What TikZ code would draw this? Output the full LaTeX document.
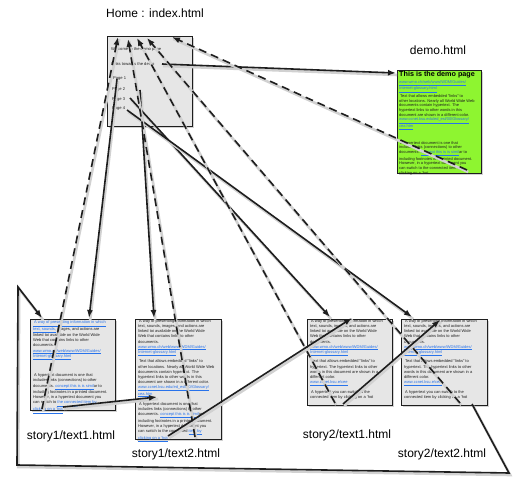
\documentclass[tikz,border=0pt]{standalone}
\usepackage{fontspec}
\setmainfont{Liberation Sans}
\usetikzlibrary{arrows.meta,shadows}
\definecolor{linkblue}{RGB}{40,115,235}
\definecolor{boxgray}{RGB}{230,230,230}
\definecolor{demogreen}{RGB}{142,245,48}
\definecolor{ink}{RGB}{30,30,30}
\newcommand{\lk}[1]{\textcolor{linkblue}{\underline{#1}}}
\newcommand{\lsp}{\hspace*{1pt}}
\newcommand{\storytwotext}{%
\lsp A way of presenting information in which\\
text, sounds, images, and actions are\\
linked toi available on the World Wide\\
Web that contains links to other\\
documents.\\
\lk{www.wmo.ch/web/www/WDM/Guides/}\\
\lk{Internet-glossary.html}\\[3pt]
\lsp Text that allows embedded "links" to\\
hypertext. The hypertext links to other\\
words in this document are shown in a\\
different color.\\
\lk{www.ccnet.ksu.e/cee}\\[5pt]
\lsp A hypertext you can switch to the\\
connected item by clicking on a 'hot}
\begin{document}
\begin{tikzpicture}[x=1pt,y=-1pt,
  pagebox/.style={draw=ink, line width=0.9pt, fill=boxgray, anchor=north west, inner sep=0pt,
    drop shadow={shadow xshift=1.5pt, shadow yshift=-2pt, opacity=0.35}},
  demobox/.style={pagebox, fill=demogreen},
  pagetext/.style={anchor=north west, inner sep=0pt, align=left, text=ink,
    font=\fontsize{4}{5.1}\selectfont},
  hometext/.style={anchor=west, inner sep=0pt, text=ink, font=\fontsize{4.1}{5}\selectfont},
  label/.style={inner sep=0pt, text=black, font=\fontsize{12}{14}\selectfont},
  nav/.style={draw=ink, line width=1.6pt, -{Latex[length=8pt,width=6pt]},
    preaction={draw=black!18, line width=2.6pt, -, transform canvas={shift={(1.2pt,-2pt)}}}},
  back/.style={nav, dash pattern=on 8pt off 5pt}
]
\fill[white] (0,0) rectangle (519,486);
\useasboundingbox (0,0) rectangle (519,486);

% ---------- boxes ----------
\node[pagebox, minimum width=85pt, minimum height=90pt] (home) at (107,36) {};
\node[demobox, minimum width=84pt, minimum height=103pt] (demo) at (397,70) {};
\node[pagebox, minimum width=85pt, minimum height=91pt] (s11) at (30,319) {};
\node[pagebox, minimum width=86pt, minimum height=120pt] (s12) at (135,319) {};
\node[pagebox, minimum width=85pt, minimum height=86pt] (s21) at (307,319) {};
\node[pagebox, minimum width=86pt, minimum height=86pt] (s22) at (401,319) {};

% ---------- labels ----------
\node[label] (homelbl) at (155,13) {Home : index.html};
\node[label] (demolbl) at (438,50) {demo.html};
\node[label] (s11lbl) at (71,436) {story1/text1.html};
\node[label] (s12lbl) at (176,454) {story1/text2.html};
\node[label] (s21lbl) at (347,435) {story2/text1.html};
\node[label] (s22lbl) at (442,454) {story2/text2.html};

% ---------- home text ----------
\node[hometext] (hw) at (111,49) {Welcome to the demo page};
\node[hometext] (hl) at (111,64) {Links towards the demo};
\node[hometext] (hp1) at (113,79) {Page 1};
\node[hometext] (hp2) at (112,89) {Page 2};
\node[hometext] (hp3) at (112,99) {Page 3};
\node[hometext] (hp4) at (112,109) {Page 4};

% ---------- demo text ----------
\node[anchor=north west, inner sep=0pt, font=\fontsize{7.2}{8}\selectfont\bfseries] (demotitle) at (399,71) {This is the demo page};
\node[pagetext, font=\fontsize{3.95}{4.7}\selectfont] (demotxt) at (399,80.8) {%
\lk{www.wmo.ch/web/www/WDM/Guides/}\\
\lk{Internet-glossary.html}\\[1pt]
\lsp Text that allows embedded "links" to\\
other locations. Nearly all World Wide Web\\
documents contain hypertext. The\\
hypertext links to other words in this\\
document are shown in a different color.\\
\lk{www.ccnet.ksu.edu/ed\_esl/00/Glossary/}\\
\lk{cea.htm}\\[10.5pt]
\lsp A hypertext document is one that\\
includes links (connections) to other\\
documents. \lk{concept this is is simil}ar to\\
including footnotes in a printed document.\\
However, in a hypertext document you\\
can switch to the connected item by\\
clicking on a 'hot};

% ---------- story texts ----------
\node[pagetext] (s11txt) at (33,320.5) {%
\lk{\lsp A way of presenting information in which}\\
\lk{text, sounds,} images, and actions are\\
linked toi available on the World Wide\\
Web that contains links to other\\
documents.\\
\lk{www.wmo.ch/web/www/WDM/Guides/}\\
\lk{Internet-glossary.html}\\[13pt]
\lsp A hypertext document is one that\\
includes links (connections) to other\\
documents. \lk{concept this is is simil}ar to\\
including footnotes in a printed document.\\
However, in a hypertext document you\\
can switch to \lk{the connected item by}\\
\lk{clicking on a 'hot}};

\node[pagetext] (s12txt) at (138,319.5) {%
\lsp A way of presenting information in which\\
text, sounds, images, and actions are\\
linked toi available on the World Wide\\
Web that contains links to other\\
documents.\\
\lk{www.wmo.ch/web/www/WDM/Guides/}\\
\lk{Internet-glossary.html}\\[3pt]
\lsp Text that allows embedded "links" to\\
other locations. Nearly all World Wide Web\\
documents contain hypertext. The\\
hypertext links to other words in this\\
document are shown in a different color.\\
\lk{www.ccnet.ksu.edu/ed\_esl/00/Glossary/}\\
\lk{cea.htm}\\[5pt]
\lsp A hypertext document is one that\\
includes links (connections) to other\\
documents. \lk{concept this is is simil}ar to\\
including footnotes in a printed document.\\
However, in a hypertext document you\\
can switch to the connected \lk{item by}\\
\lk{clicking on a 'hot}};

\node[pagetext] (s21txt) at (310,319.5) {\storytwotext};
\node[pagetext] (s22txt) at (404,319.5) {\storytwotext};

% ---------- link spots ----------
\coordinate (hLinks) at (162,64);
\coordinate (hP1) at (117,79);
\coordinate (hP2) at (140,90);
\coordinate (hP3) at (130,98);
\coordinate (hP4) at (127,110);
\coordinate (hT1) at (118,37);
\coordinate (hT2) at (128,39);
\coordinate (hT3) at (137,38);
\coordinate (hT4) at (147,38);
\coordinate (hT5) at (172,37);
\coordinate (demoIn) at (396,73);
\coordinate (demoHot) at (467,170);
\coordinate (s11In) at (89,318);
\coordinate (s12In) at (154,318);
\coordinate (s21In) at (330,317);
\coordinate (s22In) at (412,317);
\coordinate (s11Hot) at (42,409);
\coordinate (s12Hot) at (195,437);
\coordinate (s21Hot) at (335,403);
\coordinate (s22Hot) at (460,403);
\coordinate (s11Nx) at (63,407);
\coordinate (s12Tg) at (157,397);
\coordinate (s12Nx) at (168,436);
\coordinate (s21Tg) at (352,318);
\coordinate (s21Nx) at (343,404);
\coordinate (s22Tg) at (440,320);
\coordinate (s22Nx) at (472,404);
\coordinate (loopA) at (509,473);
\coordinate (loopB) at (17,465);
\coordinate (loopC) at (18,287);
\coordinate (s11Tg) at (42,318);

% ---------- connectors ----------
\draw[nav] (hLinks) -- (demoIn);
\draw[nav] (hP1) -- (s11In);
\draw[nav] (hP2) -- (s12In);
\draw[nav] (hP3) -- (s21In);
\draw[nav] (hP4) -- (s22In);

\draw[back] (s11Hot) -- (hT1);
\draw[back] (s12Hot) -- (hT2);
\draw[back] (s21Hot) -- (hT3);
\draw[back] (s22Hot) -- (hT4);
\draw[back] (demoHot) -- (hT5);

\draw[nav] (s11Nx) -- (s12Tg);
\draw[nav] (s12Nx) -- (s21Tg);
\draw[nav] (s21Nx) -- (s22Tg);
\draw[nav] (s22Nx) -- (loopA) -- (loopB) -- (loopC) -- (s11Tg);
\end{tikzpicture}
\end{document}
